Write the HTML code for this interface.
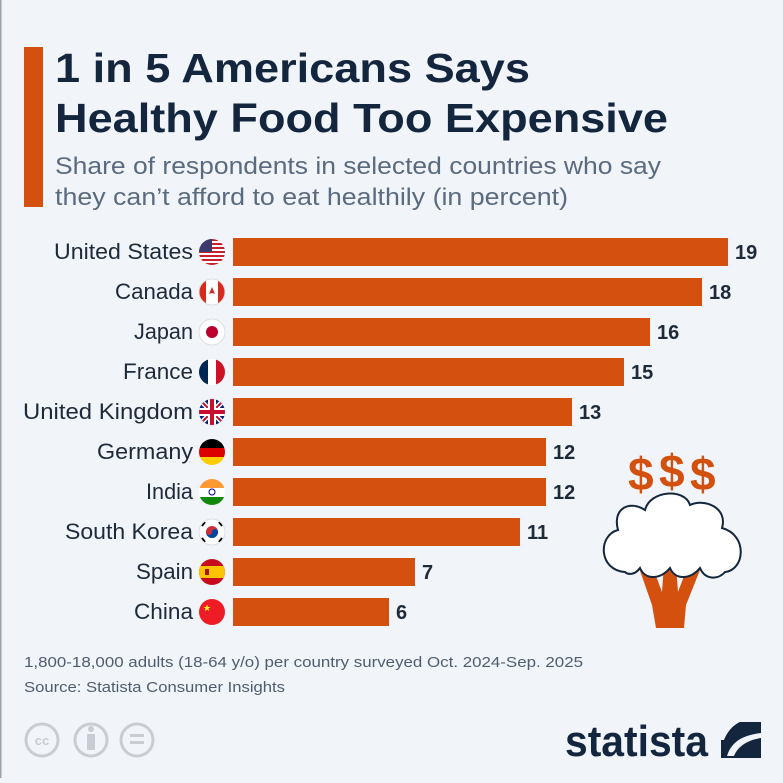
<!DOCTYPE html>
<html><head><meta charset="utf-8"><style>
body{margin:0;width:783px;height:778px;background:#f1f5fa;overflow:hidden;font-family:"Liberation Sans",sans-serif;}
</style></head><body>
<svg width="783" height="778" xmlns="http://www.w3.org/2000/svg">
<rect x="0" y="0" width="783" height="778" fill="#f1f5fa"/>
<rect x="0" y="0" width="1.5" height="778" fill="#9aa3ad"/>
<rect x="24" y="47" width="19" height="160" fill="#d4500e"/>
<g font-family="Liberation Sans, sans-serif" font-weight="bold" font-size="41" fill="#13263e" lengthAdjust="spacingAndGlyphs">
<text x="55" y="82" textLength="475" lengthAdjust="spacingAndGlyphs">1 in 5 Americans Says</text>
<text x="55" y="132" textLength="613" lengthAdjust="spacingAndGlyphs">Healthy Food Too Expensive</text>
</g>
<g font-family="Liberation Sans, sans-serif" font-size="24" fill="#5a6b80">
<text x="55" y="174" textLength="606" lengthAdjust="spacingAndGlyphs">Share of respondents in selected countries who say</text>
<text x="55" y="205" textLength="513" lengthAdjust="spacingAndGlyphs">they can’t afford to eat healthily (in percent)</text>
</g>
<defs><clipPath id="c"><circle cx="0" cy="0" r="13"/></clipPath></defs>
<g font-family="Liberation Sans, sans-serif" font-size="22" fill="#1d2a3a" text-anchor="end">
<text x="193" y="259" textLength="139" lengthAdjust="spacingAndGlyphs">United States</text>
<text x="193" y="299" textLength="78" lengthAdjust="spacingAndGlyphs">Canada</text>
<text x="193" y="339" textLength="59" lengthAdjust="spacingAndGlyphs">Japan</text>
<text x="193" y="379" textLength="70" lengthAdjust="spacingAndGlyphs">France</text>
<text x="193" y="419" textLength="170" lengthAdjust="spacingAndGlyphs">United Kingdom</text>
<text x="193" y="459" textLength="96" lengthAdjust="spacingAndGlyphs">Germany</text>
<text x="193" y="499" textLength="47" lengthAdjust="spacingAndGlyphs">India</text>
<text x="193" y="539" textLength="128" lengthAdjust="spacingAndGlyphs">South Korea</text>
<text x="193" y="579" textLength="57" lengthAdjust="spacingAndGlyphs">Spain</text>
<text x="193" y="619" textLength="59" lengthAdjust="spacingAndGlyphs">China</text>
</g>
<g fill="#d4500e">
<rect x="233" y="238" width="495" height="28"/>
<rect x="233" y="278" width="469" height="28"/>
<rect x="233" y="318" width="417" height="28"/>
<rect x="233" y="358" width="391" height="28"/>
<rect x="233" y="398" width="339" height="28"/>
<rect x="233" y="438" width="313" height="28"/>
<rect x="233" y="478" width="313" height="28"/>
<rect x="233" y="518" width="287" height="28"/>
<rect x="233" y="558" width="182" height="28"/>
<rect x="233" y="598" width="156" height="28"/>
</g>
<g font-family="Liberation Sans, sans-serif" font-weight="bold" font-size="20" fill="#1d2a3a">
<text x="735" y="259">19</text>
<text x="709" y="299">18</text>
<text x="657" y="339">16</text>
<text x="631" y="379">15</text>
<text x="579" y="419">13</text>
<text x="553" y="459">12</text>
<text x="553" y="499">12</text>
<text x="527" y="539">11</text>
<text x="422" y="579">7</text>
<text x="396" y="619">6</text>
</g>
<!-- flags -->
<g transform="translate(212,252)"><g clip-path="url(#c)"><rect x="-13" y="-13" width="26" height="26" fill="#fff"/>
<rect x="-13" y="-13" width="26" height="2" fill="#c8202f"/><rect x="-13" y="-9" width="26" height="2" fill="#c8202f"/><rect x="-13" y="-5" width="26" height="2" fill="#c8202f"/><rect x="-13" y="-1" width="26" height="2" fill="#c8202f"/><rect x="-13" y="3" width="26" height="2" fill="#c8202f"/><rect x="-13" y="7" width="26" height="2" fill="#c8202f"/><rect x="-13" y="11" width="26" height="2" fill="#c8202f"/><rect x="-13" y="-13" width="13" height="13" fill="#3c3b6e"/></g></g>
<g transform="translate(212,292)"><g clip-path="url(#c)"><rect x="-13" y="-13" width="26" height="26" fill="#fff"/><rect x="-13" y="-13" width="7" height="26" fill="#d52b1e"/><rect x="6" y="-13" width="7" height="26" fill="#d52b1e"/><path d="M0,-5 L3,2 L0,1 L-3,2Z" fill="#d52b1e"/></g><circle r="13" fill="none" stroke="#ddd"/></g>
<g transform="translate(212,332)"><g clip-path="url(#c)"><rect x="-13" y="-13" width="26" height="26" fill="#fff"/><circle r="6" fill="#bc002d"/></g><circle r="13" fill="none" stroke="#ddd"/></g>
<g transform="translate(212,372)"><g clip-path="url(#c)"><rect x="-13" y="-13" width="26" height="26" fill="#fff"/><rect x="-13" y="-13" width="9" height="26" fill="#002654"/><rect x="4" y="-13" width="9" height="26" fill="#ce1126"/></g></g>
<g transform="translate(212,412)"><g clip-path="url(#c)"><rect x="-13" y="-13" width="26" height="26" fill="#012169"/><path d="M-13,-13L13,13M13,-13L-13,13" stroke="#fff" stroke-width="5"/><path d="M-13,-13L13,13M13,-13L-13,13" stroke="#c8102e" stroke-width="2"/><rect x="-13" y="-4" width="26" height="8" fill="#fff"/><rect x="-4" y="-13" width="8" height="26" fill="#fff"/><rect x="-13" y="-2" width="26" height="4" fill="#c8102e"/><rect x="-2" y="-13" width="4" height="26" fill="#c8102e"/></g></g>
<g transform="translate(212,452)"><g clip-path="url(#c)"><rect x="-13" y="-13" width="26" height="9" fill="#000"/><rect x="-13" y="-4" width="26" height="9" fill="#dd0000"/><rect x="-13" y="5" width="26" height="9" fill="#ffce00"/></g></g>
<g transform="translate(212,492)"><g clip-path="url(#c)"><rect x="-13" y="-13" width="26" height="9" fill="#ff9933"/><rect x="-13" y="-4" width="26" height="9" fill="#fff"/><rect x="-13" y="5" width="26" height="9" fill="#138808"/><circle r="3" fill="none" stroke="#000080"/></g></g>
<g transform="translate(212,532)"><g clip-path="url(#c)"><rect x="-13" y="-13" width="26" height="26" fill="#fff"/><circle r="6" fill="#cd2e3a"/><path d="M-6,0 A6,6 0 0,0 6,0 A3,3 0 0,0 0,0 A3,3 0 0,1 -6,0Z" fill="#0047a0"/><g stroke="#000" stroke-width="2"><path d="M-10,-6L-7,-10M7,-10L10,-6M-10,6L-7,10M7,10L10,6"/></g></g><circle r="13" fill="none" stroke="#ddd"/></g>
<g transform="translate(212,572)"><g clip-path="url(#c)"><rect x="-13" y="-13" width="26" height="26" fill="#c60b1e"/><rect x="-13" y="-6" width="26" height="12" fill="#ffc400"/><rect x="-7" y="-3" width="4" height="6" fill="#ad1519"/></g></g>
<g transform="translate(212,612)"><g clip-path="url(#c)"><rect x="-13" y="-13" width="26" height="26" fill="#ee1c25"/><text x="-9" y="-1" font-size="9" fill="#ffff00">★</text></g></g>
<!-- illustration -->
<g font-family="Liberation Sans, sans-serif" font-weight="bold" font-size="46" fill="#d4500e">
<text x="628" y="490">$</text><text x="659" y="487">$</text><text x="690" y="490">$</text>
</g>
<path d="M638,565 L652,605 L656,628 L684,628 L686,605 L702,565 L690,560 L678,592 L676,565 L664,565 L662,592 L650,560Z" fill="#d4500e"/>
<path d="M625,572 C598,570 598,535 618,530 C612,508 630,500 645,510 C650,490 685,488 690,505 C705,498 728,508 722,528 C748,535 745,570 725,572 C718,580 705,580 700,568 C690,580 675,580 670,568 C660,580 645,580 640,568 C635,575 628,575 625,572 Z" fill="#fff" stroke="#13263e" stroke-width="2"/>
<!-- footer -->
<g font-family="Liberation Sans, sans-serif" font-size="15" fill="#4e5d6e">
<text x="24" y="667" textLength="559" lengthAdjust="spacingAndGlyphs">1,800-18,000 adults (18-64 y/o) per country surveyed Oct. 2024-Sep. 2025</text>
<text x="24" y="692" textLength="261" lengthAdjust="spacingAndGlyphs">Source: Statista Consumer Insights</text>
</g>
<g fill="none" stroke="#c8cdd3" stroke-width="3">
<circle cx="42" cy="740" r="16"/><circle cx="91" cy="740" r="16"/><circle cx="137" cy="740" r="16"/>
</g>
<text x="42" y="745" font-family="Liberation Sans, sans-serif" font-weight="bold" font-size="13" fill="#c8cdd3" text-anchor="middle">cc</text>
<rect x="87" y="734" width="8" height="16" fill="#c8cdd3"/><circle cx="91" cy="729" r="3" fill="#c8cdd3"/>
<rect x="130" y="734" width="14" height="3" fill="#c8cdd3"/><rect x="130" y="741" width="14" height="3" fill="#c8cdd3"/>
<text x="565" y="756" font-family="Liberation Sans, sans-serif" font-weight="bold" font-size="44" fill="#13263e" textLength="143" lengthAdjust="spacingAndGlyphs">statista</text>
<rect x="721" y="722" width="40" height="36" fill="#13263e"/>
<path d="M727,756 C732,740 745,735 761,733 L761,738 C748,740 738,746 734,756 Z" fill="#f1f5fa"/>
<path d="M721,722 L740,722 C733,725 727,732 724,740 L721,740Z" fill="#f1f5fa"/>
</svg>
</body></html>
